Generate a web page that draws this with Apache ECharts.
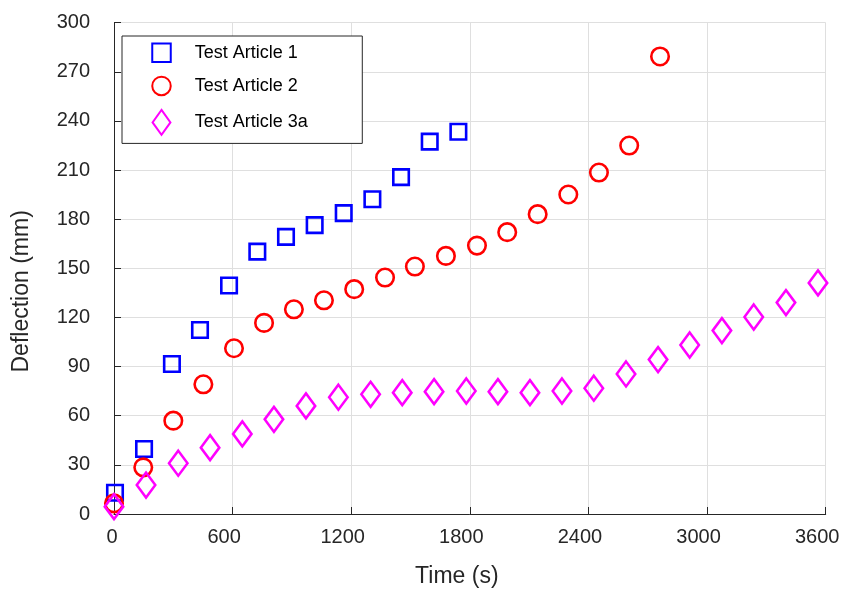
<!DOCTYPE html>
<html>
<head>
<meta charset="utf-8">
<script src="https://cdn.jsdelivr.net/npm/echarts@6/dist/echarts.min.js"></script>
<style>
html,body{margin:0;padding:0;background:#fff;}
#chart{width:843px;height:598px;}
</style>
</head>
<body>
<div id="chart"></div>
<script>
// Data
const seriesNames = ['Test Article 1', 'Test Article 2', 'Test Article 3a'];

const ta1Time = [5, 152, 293, 435, 582, 725, 870, 1015, 1162, 1307, 1452, 1597, 1742];
const ta1Defl = [13, 39.7, 91.6, 112.4, 139.5, 160.2, 169.2, 176.4, 183.7, 192.2, 205.7, 227.4, 233.4];

const ta2Time = [0, 148, 300, 452, 607, 759, 910, 1062, 1215, 1371, 1522, 1679, 1836, 1989, 2143, 2298, 2453, 2606, 2762];
const ta2Defl = [6.5, 28.5, 57, 79.2, 101.2, 116.7, 125, 130.5, 137.3, 144.4, 151.1, 157.6, 163.9, 172.1, 183.1, 195.1, 208.5, 225, 279.4];

const ta3Time = [0, 162, 325, 486, 649, 809, 971, 1135, 1298, 1458, 1619, 1782, 1942, 2104, 2266, 2427, 2590, 2752, 2912, 3075, 3236, 3399, 3561];
const ta3Defl = [4.5, 17.7, 31, 40.5, 48.9, 57.8, 66, 71.3, 73.1, 74.1, 74.7, 75.1, 74.7, 74.1, 75.1, 76.8, 85.5, 94.3, 103.2, 112, 120.3, 129.1, 141.1];

const xTicks = [0, 600, 1200, 1800, 2400, 3000, 3600];
const yTicks = [0, 30, 60, 90, 120, 150, 180, 210, 240, 270, 300];

function pairs(xs, ys) { return xs.map((x, i) => [x, ys[i]]); }

const FONT = "'Liberation Sans', Arial, Helvetica, sans-serif";
const AXIS_COLOR = '#262626';
const SQUARE = 'path://M0,0 L10,0 L10,10 L0,10 Z';
const DIAMOND = 'path://M10,0 L20,14 L10,28 L0,14 Z';

const chart = echarts.init(document.getElementById('chart'), null, {renderer: 'canvas'});

const option = {
  backgroundColor: '#ffffff',
  animation: false,
  textStyle: {fontFamily: FONT},
  grid: {left: 114, right: 17.3, top: 22.7, bottom: 84},
  legend: {
    orient: 'vertical',
    left: 122,
    top: 36,
    padding: [6.5, 54.5, 7.5, 29.25],
    itemWidth: 18.5,
    itemHeight: 25,
    itemGap: 12.7,
    symbolKeepAspect: true,
    borderColor: AXIS_COLOR,
    borderWidth: 1,
    backgroundColor: '#ffffff',
    textStyle: {fontFamily: FONT, fontSize: 18, color: '#000000', padding: [0, 0, 0, 19]},
    data: seriesNames
  },
  xAxis: {
    type: 'value',
    min: xTicks[0],
    max: xTicks[xTicks.length - 1],
    interval: xTicks[1] - xTicks[0],
    name: 'Time (s)',
    nameLocation: 'middle',
    nameGap: 51,
    nameTextStyle: {fontFamily: FONT, fontSize: 23, color: AXIS_COLOR, padding: [0, 26, 0, 0]},
    axisLine: {show: true, onZero: false, lineStyle: {color: AXIS_COLOR, width: 1}},
    axisTick: {show: true, inside: true, length: 7, lineStyle: {color: AXIS_COLOR}},
    axisLabel: {fontFamily: FONT, fontSize: 20, color: AXIS_COLOR, margin: 13, padding: [0, 17, 0, 0],
      formatter: v => (v === 0 ? '{z|0}' : String(v)),
      rich: {z: {fontFamily: FONT, fontSize: 20, color: AXIS_COLOR, padding: [0, 0, 0, 13]}}},
    splitLine: {show: true, lineStyle: {color: '#dfdfdf', width: 1}}
  },
  yAxis: {
    type: 'value',
    min: yTicks[0],
    max: yTicks[yTicks.length - 1],
    interval: yTicks[1] - yTicks[0],
    name: 'Deflection (mm)',
    nameLocation: 'middle',
    nameRotate: 90,
    nameGap: 81,
    nameTextStyle: {fontFamily: FONT, fontSize: 23, color: AXIS_COLOR, padding: [0, 46, 0, 0]},
    axisLine: {show: true, onZero: false, lineStyle: {color: AXIS_COLOR, width: 1}},
    axisTick: {show: true, inside: true, length: 7, lineStyle: {color: AXIS_COLOR}},
    axisLabel: {fontFamily: FONT, fontSize: 20, color: AXIS_COLOR, margin: 24, padding: [0, 0, 12, 0],
      formatter: v => String(v)},
    splitLine: {show: true, lineStyle: {color: '#dfdfdf', width: 1}}
  },
  series: [
    {
      name: seriesNames[0],
      type: 'scatter',
      symbol: SQUARE,
      symbolSize: 15.5,
      itemStyle: {color: 'rgba(0,0,0,0)', borderColor: '#0000ff', borderWidth: 2.6, opacity: 1},
      data: pairs(ta1Time, ta1Defl)
    },
    {
      name: seriesNames[1],
      type: 'scatter',
      symbol: 'circle',
      symbolSize: 17.5,
      itemStyle: {color: 'rgba(0,0,0,0)', borderColor: '#ff0000', borderWidth: 2.6, opacity: 1},
      data: pairs(ta2Time, ta2Defl)
    },
    {
      name: seriesNames[2],
      type: 'scatter',
      symbol: DIAMOND,
      symbolSize: [18.5, 25],
      itemStyle: {color: 'rgba(0,0,0,0)', borderColor: '#ff00ff', borderWidth: 2.6, opacity: 1},
      data: pairs(ta3Time, ta3Defl)
    }
  ]
};

chart.setOption(option);
</script>
</body>
</html>
